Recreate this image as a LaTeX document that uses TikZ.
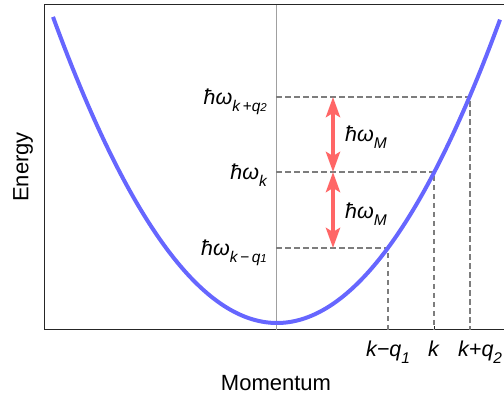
\documentclass[tikz,border=0pt]{standalone}
\usepackage{fontspec}
\setmainfont{Liberation Sans}
\usetikzlibrary{arrows.meta}
\definecolor{curveblue}{RGB}{102,102,255}
\definecolor{arrowred}{RGB}{255,102,102}
\definecolor{dashgray}{RGB}{125,125,125}
\definecolor{axisgray}{RGB}{160,160,160}
\newcommand{\lblsize}{\fontsize{21.5}{23}\selectfont}
\newcommand{\subsz}[1]{\raisebox{-0.28em}{\fontsize{15.5}{16}\selectfont\itshape #1}}
\newcommand{\subsub}[1]{\raisebox{-0.28em}{\fontsize{11.5}{12}\selectfont\itshape #1}}
\newcommand{\hwsym}{\textit{ħω}}
\tikzset{
  frameline/.style={line width=1pt, draw=black!85},
  axisline/.style={line width=0.9pt, draw=axisgray},
  dashline/.style={line width=2pt, draw=dashgray, dash pattern=on 5.5pt off 3.5pt},
  curveline/.style={line width=4pt, draw=curveblue},
  redarrow/.style={line width=4pt, draw=arrowred, {Stealth[length=20pt,width=14pt,inset=4pt]}-{Stealth[length=20pt,width=14pt,inset=4pt]}},
  lbl/.style={inner sep=0pt, font=\lblsize},
  titlestyle/.style={inner sep=0pt, font=\fontsize{22}{24}\selectfont},
}
\begin{document}
\begin{tikzpicture}[x=1pt,y=-1pt]
\useasboundingbox (0,0) rectangle (504,398);
% frame
\coordinate (tl) at (44,5);
\coordinate (tr) at (506,5);
\coordinate (bl) at (44,330);
\coordinate (br) at (506,330);
\draw[frameline] (tr) -- (tl) -- (bl) -- (br);
% vertical axis
\coordinate (vt) at (276,5);
\coordinate (vb) at (276,330);
\draw[axisline] (vt) -- (vb);
% points
\coordinate (e1) at (276,97);
\coordinate (e2) at (276,172);
\coordinate (e3) at (276,248);
\coordinate (c1) at (469.5,97);
\coordinate (c2) at (434,172);
\coordinate (c3) at (388,248);
\coordinate (b1) at (469.5,330);
\coordinate (b2) at (434,330);
\coordinate (b3) at (388,330);
% ticks
\foreach \p in {e1,e2,e3} \draw[axisline] (\p) -- ++(4,0);
\foreach \p in {b1,b2,b3} \draw[frameline] (\p) -- ++(0,-4);
% dashed guides
\draw[dashline] (e1) -- (c1) -- (b1);
\draw[dashline] (e2) -- (c2) -- (b2);
\draw[dashline] (e3) -- (c3) -- (b3);
% dispersion curve
\draw[curveline] plot[domain=53:500, samples=120, smooth] (\x, {323-61*((\x-277)/100)^2});
% red arrows
\coordinate (a1) at (333,97);
\coordinate (a2) at (333,172);
\coordinate (a3) at (333,248);
\draw[redarrow] (a2) -- (a1);
\draw[redarrow] (a3) -- (a2);
% energy labels
\node[lbl, anchor=base east] (l1) at (267,105) {\hwsym\subsz{k\,+q}\subsub{2}};
\node[lbl, anchor=base east] (l2) at (267,180) {\hwsym\subsz{k}};
\node[lbl, anchor=base east] (l3) at (267,256) {\hwsym\subsz{k\,−\,q}\subsub{1}};
\node[lbl, anchor=base west] (m1) at (345,142) {\hwsym\subsz{M}};
\node[lbl, anchor=base west] (m2) at (345,219) {\hwsym\subsz{M}};
% momentum labels
\node[lbl, anchor=base] (k1) at (388,357) {\textit{k−q}\subsz{1}};
\node[lbl, anchor=base] (k2) at (434,357) {\textit{k}};
\node[lbl, anchor=base west] (k3) at (458,357) {\textit{k+q}\subsz{2}};
% axis titles
\node[titlestyle, rotate=90] (ey) at (23,167) {Energy};
\node[titlestyle, anchor=base] (mx) at (276,391) {Momentum};
\end{tikzpicture}
\end{document}
